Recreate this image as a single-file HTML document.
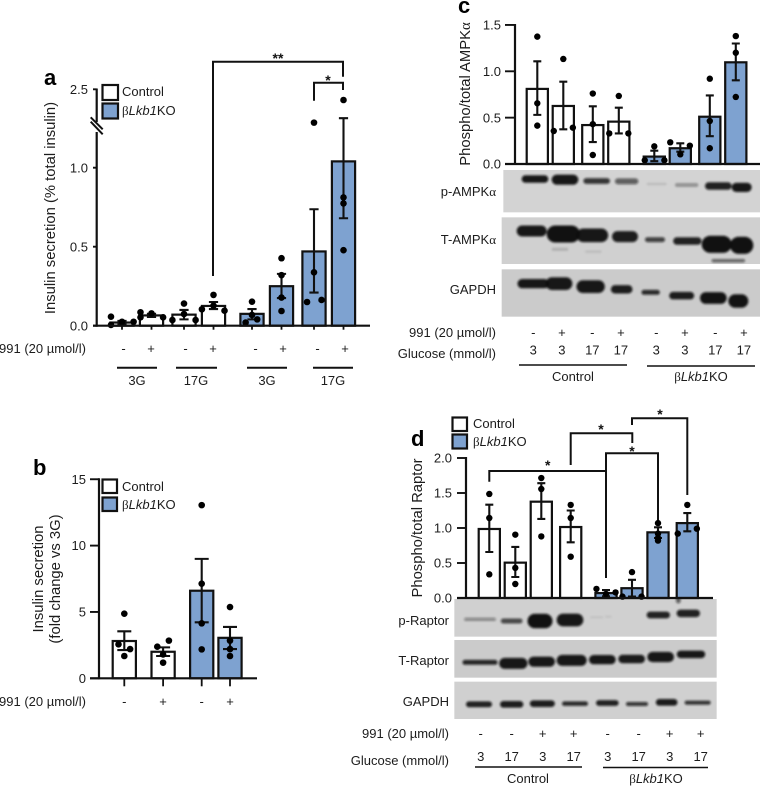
<!DOCTYPE html>
<html lang="en">
<head>
<meta charset="utf-8">
<title>AMPK insulin secretion figure</title>
<style>
html,body{margin:0;padding:0;background:#fff;}
svg{display:block;}
text{font-family:"Liberation Sans",Arial,sans-serif;font-size:13px;fill:#1c1c1c;}
.panel{font-size:22px;font-weight:bold;fill:#000;}
.title{font-size:14.8px;}
.star{font-size:14px;font-weight:bold;fill:#111;}
.sym{font-family:"Liberation Serif",serif;}
</style>
</head>
<body>
<svg id="fig" xmlns="http://www.w3.org/2000/svg" width="761" height="786" viewBox="0 0 761 786">
<defs><filter id="blur" filterUnits="userSpaceOnUse" x="0" y="0" width="761" height="786"><feGaussianBlur stdDeviation="1.1"/></filter></defs>

<text class="panel" x="44" y="85">a</text>
<text class="panel" x="33" y="475">b</text>
<text class="panel" x="458" y="13">c</text>
<text class="panel" x="411" y="446">d</text>

<text class="title" text-anchor="middle" transform="translate(55,208) rotate(-90)">Insulin secretion (% total insulin)</text>
<text class="title" text-anchor="middle" transform="translate(43,579) rotate(-90)">Insulin secretion</text>
<text class="title" text-anchor="middle" transform="translate(60,579) rotate(-90)">(fold change vs 3G)</text>
<text class="title" text-anchor="middle" transform="translate(470,94) rotate(-90)">Phospho/total AMPK<tspan class="sym">α</tspan></text>
<text class="title" text-anchor="middle" transform="translate(422,528) rotate(-90)">Phospho/total Raptor</text>

<g>
<rect x="102.5" y="85" width="15.5" height="15" fill="#fff" stroke="#111" stroke-width="2.2"/>
<rect x="102.5" y="103.5" width="15.5" height="15" fill="#7ea2d0" stroke="#111" stroke-width="2.2"/>
<text x="122" y="96">Control</text>
<text x="122" y="115"><tspan class="sym">β</tspan><tspan font-style="italic">Lkb1</tspan>KO</text>
</g>
<g>
<rect x="102.5" y="479.5" width="14.5" height="13.5" fill="#fff" stroke="#111" stroke-width="2.2"/>
<rect x="102.5" y="497.5" width="14.5" height="13.5" fill="#7ea2d0" stroke="#111" stroke-width="2.2"/>
<text x="122" y="491">Control</text>
<text x="122" y="509"><tspan class="sym">β</tspan><tspan font-style="italic">Lkb1</tspan>KO</text>
</g>
<g>
<rect x="452.5" y="417.5" width="14.5" height="13.5" fill="#fff" stroke="#111" stroke-width="2.2"/>
<rect x="452.5" y="434.5" width="14.5" height="14" fill="#7ea2d0" stroke="#111" stroke-width="2.2"/>
<text x="473" y="428">Control</text>
<text x="473" y="446"><tspan class="sym">β</tspan><tspan font-style="italic">Lkb1</tspan>KO</text>
</g>

<g fill="none" stroke="#111" stroke-width="2">
<path d="M213 276V61.7H343V76.7"/>
<path d="M314 100.7V82.7H343V90"/>
<path d="M489.3 481.7V471H606V578"/>
<path d="M570.7 465V433.3H632.3V443"/>
<path d="M606 471V453.3H658V523"/>
<path d="M632 425V418.3H687.3V495"/>
</g>
<text class="star" text-anchor="middle" x="278" y="63">**</text>
<text class="star" text-anchor="middle" x="328" y="85">*</text>
<text class="star" text-anchor="middle" x="547.7" y="470">*</text>
<text class="star" text-anchor="middle" x="601" y="434">*</text>
<text class="star" text-anchor="middle" x="632" y="456">*</text>
<text class="star" text-anchor="middle" x="660" y="419">*</text>

<g stroke="#111" stroke-width="2">
<line x1="117" y1="367.7" x2="157" y2="367.7"/>
<line x1="176" y1="367.7" x2="217" y2="367.7"/>
<line x1="247" y1="367.7" x2="287" y2="367.7"/>
<line x1="313" y1="367.7" x2="353" y2="367.7"/>
<line x1="519" y1="365" x2="627" y2="365" stroke-width="1.5"/>
<line x1="647" y1="366" x2="755" y2="366" stroke-width="1.5"/>
<line x1="475" y1="767" x2="582" y2="767" stroke-width="1.5"/>
<line x1="603" y1="767.5" x2="708" y2="767.5" stroke-width="1.5"/>
</g>

<text text-anchor="middle" x="137" y="385">3G</text>
<text text-anchor="middle" x="196" y="385">17G</text>
<text text-anchor="middle" x="267" y="385">3G</text>
<text text-anchor="middle" x="333" y="385">17G</text>
<text text-anchor="end" x="86" y="353">991 (20 µmol/l)</text>
<text text-anchor="end" x="86" y="706">991 (20 µmol/l)</text>
<text text-anchor="end" x="496" y="196">p-AMPK<tspan class="sym">α</tspan></text>
<text text-anchor="end" x="496" y="244">T-AMPK<tspan class="sym">α</tspan></text>
<text text-anchor="end" x="496" y="294">GAPDH</text>
<text text-anchor="end" x="496" y="337">991 (20 µmol/l)</text>
<text text-anchor="end" x="496" y="358">Glucose (mmol/l)</text>
<text text-anchor="middle" x="573" y="381">Control</text>
<text text-anchor="middle" x="701" y="381"><tspan class="sym">β</tspan><tspan font-style="italic">Lkb1</tspan>KO</text>
<text text-anchor="end" x="449" y="625">p-Raptor</text>
<text text-anchor="end" x="449" y="665">T-Raptor</text>
<text text-anchor="end" x="449" y="706">GAPDH</text>
<text text-anchor="end" x="449" y="738">991 (20 µmol/l)</text>
<text text-anchor="end" x="449" y="765">Glucose (mmol/l)</text>
<text text-anchor="middle" x="528" y="783">Control</text>
<text text-anchor="middle" x="656" y="783"><tspan class="sym">β</tspan><tspan font-style="italic">Lkb1</tspan>KO</text>

<g id="blots"></g>
<g id="charts"></g>
<g id="rows"></g>
</svg>

<script>
// ---------- Panel a ----------
const aCategories = ['3G-','3G+','17G-','17G+','KO3G-','KO3G+','KO17G-','KO17G+'];
const aMeans = [0.02,0.065,0.07,0.125,0.075,0.25,0.47,1.04];
const aErrLow = [0.01,0.055,0.04,0.105,0.04,0.175,0.21,0.68];
const aErrHigh = [0.03,0.075,0.10,0.15,0.105,0.328,0.737,1.53];
const aDots = [[0.057,0.025,0.025,0.005],[0.085,0.078,0.053,0.053],[0.14,0.074,0.036,0.036],[0.195,0.127,0.104,0.095],[0.152,0.068,0.04,0.02],[0.427,0.32,0.178,0.093],[1.38,0.338,0.163,0.15],[2.14,0.812,0.774,0.478]];
const aTickLabels = ['0.0','0.5','1.0','2.5'];
const aTickValues = [0,0.5,1,2.5];
const aSigns = ['-','+','-','+','-','+','-','+'];

// ---------- Panel b ----------
const bCategories = ['Control-','Control+','KO-','KO+'];
const bMeans = [2.81,2.0,6.6,3.05];
const bErrLow = [2.13,1.68,4.22,2.2];
const bErrHigh = [3.54,2.33,9.0,3.87];
const bDots = [[4.87,2.56,2.2,1.68],[2.38,2.84,1.8,1.18],[13.05,7.13,4.14,2.18],[5.37,2.84,2.2,1.68]];
const bTickLabels = ['0','5','10','15'];
const bTickValues = [0,5,10,15];
const bSigns = ['-','+','-','+'];

// ---------- Panel c ----------
const cCategories = ['C3-','C3+','C17-','C17+','K3-','K3+','K17-','K17+'];
const cMeans = [0.81,0.626,0.42,0.457,0.08,0.17,0.51,1.097];
const cErrLow = [0.53,0.374,0.237,0.33,0.03,0.133,0.30,0.903];
const cErrHigh = [1.108,0.888,0.622,0.608,0.144,0.223,0.74,1.30];
const cDots = [[1.374,0.655,0.414],[1.133,0.356,0.392],[0.76,0.43,0.097],[0.734,0.33,0.33],[0.19,0.04,0.04],[0.234,0.198,0.104],[0.92,0.464,0.17],[1.38,1.2,0.723]];
const cTickLabels = ['0.0','0.5','1.0','1.5'];
const cTickValues = [0,0.5,1,1.5];
const cSigns = ['-','+','-','+','-','+','-','+'];
const cGlucose = ['3','3','17','17','3','3','17','17'];

// ---------- Panel d ----------
const dCategories = ['C3-','C17-','C3+','C17+','K3-','K17-','K3+','K17+'];
const dMeans = [0.986,0.505,1.376,1.014,0.07,0.14,0.938,1.07];
const dErrLow = [0.657,0.30,1.13,0.795,0.024,0.02,0.857,0.952];
const dErrHigh = [1.333,0.729,1.64,1.25,0.114,0.26,1.01,1.214];
const dDots = [[1.486,1.143,0.338],[0.905,0.43,0.2],[1.714,1.557,0.88],[1.33,1.143,0.59],[0.13,0.057,0.08],[0.37,0.02,0.02],[1.07,0.92,0.857,0.82],[1.33,0.92,0.99]];
const dTickLabels = ['0.0','0.5','1.0','1.5','2.0'];
const dTickValues = [0,0.5,1,1.5,2];
const dSigns = ['-','-','+','+','-','-','+','+'];
const dGlucose = ['3','17','3','17','3','17','3','17'];

// Dot spread within a bar, as multiples of the bar half-width (layout only).
const spreadA = [[-0.95,0,1,-0.95],[-0.95,0,-0.95,1],[0,0,-1,1],[0,0,-1,0.95],[0,0,0.45,-0.55],[0,0,0,0],[0,0,0.65,-0.6],[0,0,0,0]];
const spreadB = [[0,-0.5,0.5,0],[-0.5,0.5,0,0],[0,0,0,0],[0,0,0,0]];
const spreadC = [[0,0,0],[0,-0.9,0.9],[0,0,0],[0,-0.9,0.9],[0,-0.9,0.95],[-0.95,0.9,0],[0,0,0],[0,0,0]];
const spreadD = [[0,0,0],[0,0,0],[0,0,0],[0,0,0],[-0.9,0,0.9],[0,-0.9,0.9],[0,0,0,0],[0,-0.9,0.9]];

const SVGNS = 'http://www.w3.org/2000/svg';
function mk(tag, parent, attrs) {
  const node = document.createElementNS(SVGNS, tag);
  for (const k in attrs) node.setAttribute(k, attrs[k]);
  parent.appendChild(node);
  return node;
}
function linearY(base, pxPerUnit) { return v => base - v * pxPerUnit; }

// Panel a has a broken axis: linear below the break, compressed above it.
function yA(v) {
  if (v <= 1.26) return 325.7 - v * 158;
  return 125 - (v - 1.3) * 29.75;
}
const yB = linearY(678.3, 13.27);
const yC = linearY(164, 92.7);
const yD = linearY(598, 70);

const xA = i => 122 + 29.5 * (i % 2) + 62 * Math.floor(i / 2) + (i >= 4 ? 6 : 0);
const xB = i => i < 2 ? 124.3 + 38.8 * i : 201.7 + 28.3 * (i - 2);
const xC = i => 537.3 + 26 * (i % 2) + 55.5 * Math.floor(i / 2) + (i >= 4 ? 6 : 0);
const xD = i => 489.3 + 26 * i + (i >= 3 ? 3.4 : 0) + (i >= 4 ? 9.3 : 0) + (i >= 7 ? 3.3 : 0);

function drawChart(c) {
  const root = document.getElementById('charts');
  const g = mk('g', root, {});
  
  
  const half = c.means.length / 2;
  const y0 = c.y(0);
  c.means.forEach((m, i) => {
    const cx = c.x(i);
    const bar = mk('rect', g, {x: cx - c.barW / 2, y: c.y(m), width: c.barW, height: y0 - c.y(m),
      fill: i < half ? '#ffffff' : '#7ea2d0', stroke: '#111', 'stroke-width': 2.2});
    
    

    const hi = c.y(c.errHigh[i]), lo = c.y(c.errLow[i]);
    const err = mk('path', g, {d: 'M' + cx + ' ' + lo + 'V' + hi +
      'M' + (cx - c.cap) + ' ' + hi + 'H' + (cx + c.cap) +
      'M' + (cx - c.cap) + ' ' + lo + 'H' + (cx + c.cap),
      fill: 'none', stroke: '#111', 'stroke-width': 2.1});
    
    

    c.dots[i].forEach((v, j) => {
      const dot = mk('circle', g, {cx: cx + c.spread[i][j] * c.barW / 2, cy: c.y(v), r: c.dotR, fill: '#000'});
      
      
    });

    if (c.xTicks) {
      const t = mk('line', g, {x1: cx, x2: cx, y1: y0, y2: y0 + c.xTicks, stroke: '#111', 'stroke-width': 1.8});
      
      
    }
  });

  // axes
  const xAxis = mk('line', g, {x1: c.axisFrom, x2: c.axisTo, y1: y0, y2: y0, stroke: '#111', 'stroke-width': 2.2});
  
  
  const top = c.y(c.tickValues[c.tickValues.length - 1]);
  const yAxis = mk('path', g, {d: c.axisPath || ('M' + c.axisX + ' ' + (y0 + 1) + 'V' + (top - 1)), fill: 'none', stroke: '#111', 'stroke-width': 2.2});
  
  
  c.tickValues.forEach((v, i) => {
    const t = mk('line', g, {x1: c.axisFrom, x2: c.axisX, y1: c.y(v), y2: c.y(v), stroke: '#111', 'stroke-width': 1.9});
    
    
    const lab = mk('text', g, {x: c.axisFrom - c.labelGap, y: c.y(v) + 4.6, 'text-anchor': 'end'});
    lab.textContent = c.tickLabels[i];
    
    
  });
}

drawChart({id:'a', categories:aCategories, means:aMeans, errLow:aErrLow, errHigh:aErrHigh, dots:aDots, spread:spreadA,
  tickValues:aTickValues, tickLabels:aTickLabels, x:xA, y:yA, barW:23.2, cap:4.6, dotR:3.3, xTicks:4,
  axisFrom:93, axisTo:370, axisX:96.7, labelGap:5, axisPath:'M96.7 326.7V132M96.7 122V88.5'});
drawChart({id:'b', categories:bCategories, means:bMeans, errLow:bErrLow, errHigh:bErrHigh, dots:bDots, spread:spreadB,
  tickValues:bTickValues, tickLabels:bTickLabels, x:xB, y:yB, barW:23.2, cap:7, dotR:3.3, xTicks:8,
  axisFrom:90, axisTo:257, axisX:99, labelGap:4});
drawChart({id:'c', categories:cCategories, means:cMeans, errLow:cErrLow, errHigh:cErrHigh, dots:cDots, spread:spreadC,
  tickValues:cTickValues, tickLabels:cTickLabels, x:xC, y:yC, barW:21.2, cap:4, dotR:3.2, xTicks:0,
  axisFrom:505, axisTo:760, axisX:515, labelGap:4});
drawChart({id:'d', categories:dCategories, means:dMeans, errLow:dErrLow, errHigh:dErrHigh, dots:dDots, spread:spreadD,
  tickValues:dTickValues, tickLabels:dTickLabels, x:xD, y:yD, barW:21.2, cap:4, dotR:3.2, xTicks:0,
  axisFrom:457, axisTo:713, axisX:466, labelGap:5});

// Break mark on panel a's axis
(function () {
  const g = document.getElementById('charts');
  const br = mk('path', g, {d: 'M90.7 117.3L102.7 129.3M90.7 121.7L102.7 134.3', stroke: '#111', 'stroke-width': 2, fill: 'none'});
  
  
})();

// Condition rows beneath the charts
function drawRow(name, labels, xOf, baseline) {
  const g = document.getElementById('rows');
  labels.forEach((s, i) => {
    const t = mk('text', g, {x: xOf(i), y: baseline, 'text-anchor': 'middle'});
    t.textContent = s;
    
    
  });
}
const laneA = i => xA(i) + (i % 2 ? -0.5 : 1.5) + (i >= 4 ? 2 : 0);
const laneC = i => 533.3 + 28.6 * (i % 2) + 59 * Math.floor(i / 2) + (i >= 4 ? 5 : 0);
const laneD = i => 480.7 + 31 * i + (i >= 4 ? 3 : 0);
drawRow('treatment-sign-a', aSigns, laneA, 353);
drawRow('treatment-sign-b', bSigns, xB, 706);
drawRow('treatment-sign-c', cSigns, laneC, 337);
drawRow('glucose-level-c', cGlucose, laneC, 354.5);
drawRow('treatment-sign-d', dSigns, laneD, 738);
drawRow('glucose-level-d', dGlucose, laneD, 761);

// Western blot images: [x-centre, y-centre, width, height, darkness] in crop units
function blot(name, ox, oy, frame, fill, bands) {
  const root = document.getElementById('blots');
  const g = mk('g', root, {});
  
  
  const bg = mk('rect', g, {x: ox + frame[0] / 3, y: oy + frame[1] / 3, width: (frame[2] - frame[0]) / 3, height: (frame[3] - frame[1]) / 3, fill: fill});
  
  
  const inner = mk('g', g, {filter: 'url(#blur)'});
  bands.forEach(b => {
    const w = b[2] / 3, h = b[3] * 1.3 / 3 + 0.6;
    const r = mk('rect', inner, {x: ox + b[0] / 3 - w / 2, y: oy + b[1] / 3 - h / 2, width: w, height: h, rx: Math.min(w, h) / 2, fill: '#111', 'fill-opacity': b[4]});
    
    
  });
}
blot('blot-p-ampk', 400, 165, [310, 15, 1080, 142], '#d3d3d3', [
  [405,42,80,16,0.95],[495,44,80,22,0.95],[590,48,80,12,0.8],[680,49,70,12,0.6],
  [770,57,60,4,0.12],[860,60,70,8,0.3],[955,63,80,16,0.9],[1025,67,60,20,0.95]]);
blot('blot-t-ampk', 400, 165, [305, 157, 1080, 297], '#d0d0d0', [
  [395,198,90,24,0.95],[490,207,100,38,0.98],[577,211,95,30,0.95],[675,215,78,24,0.92],
  [765,224,60,10,0.75],[862,228,85,16,0.9],[950,238,90,38,0.98],[1025,241,70,38,0.98],
  [985,287,100,6,0.6],[480,253,50,6,0.15],[580,260,50,4,0.1]]);
blot('blot-gapdh-c', 400, 165, [305, 313, 1080, 455], '#cbcbcb', [
  [400,356,95,20,0.95],[477,356,80,28,0.95],[572,365,85,28,0.95],[665,373,65,18,0.92],
  [752,382,55,10,0.85],[845,392,75,16,0.92],[940,399,80,26,0.97],[1015,408,60,30,0.97]]);
blot('blot-p-raptor', 400, 595, [163, 12, 950, 125], '#d0d0d0', [
  [240,73,95,6,0.4],[335,78,65,10,0.7],[420,78,75,32,0.98],[510,75,80,28,0.95],
  [590,67,40,3,0.08],[625,65,20,3,0.08],[775,60,70,14,0.9],[865,55,70,16,0.9],[835,15,14,14,0.6]]);
blot('blot-t-raptor', 400, 595, [163, 135, 950, 248], '#cbcbcb', [
  [240,202,105,10,0.88],[340,205,85,24,0.95],[425,200,80,22,0.95],[515,196,90,24,0.95],
  [607,194,80,20,0.95],[695,192,80,18,0.93],[782,186,80,22,0.95],[873,178,85,16,0.95]]);
blot('blot-gapdh-d', 400, 595, [163, 260, 950, 372], '#d0d0d0', [
  [237,328,78,12,0.9],[335,328,70,14,0.92],[427,326,75,14,0.92],[525,326,78,9,0.85],
  [622,324,68,12,0.9],[711,327,66,8,0.8],[800,322,65,14,0.93],[893,323,78,8,0.8]]);
</script>
</body>
</html>
